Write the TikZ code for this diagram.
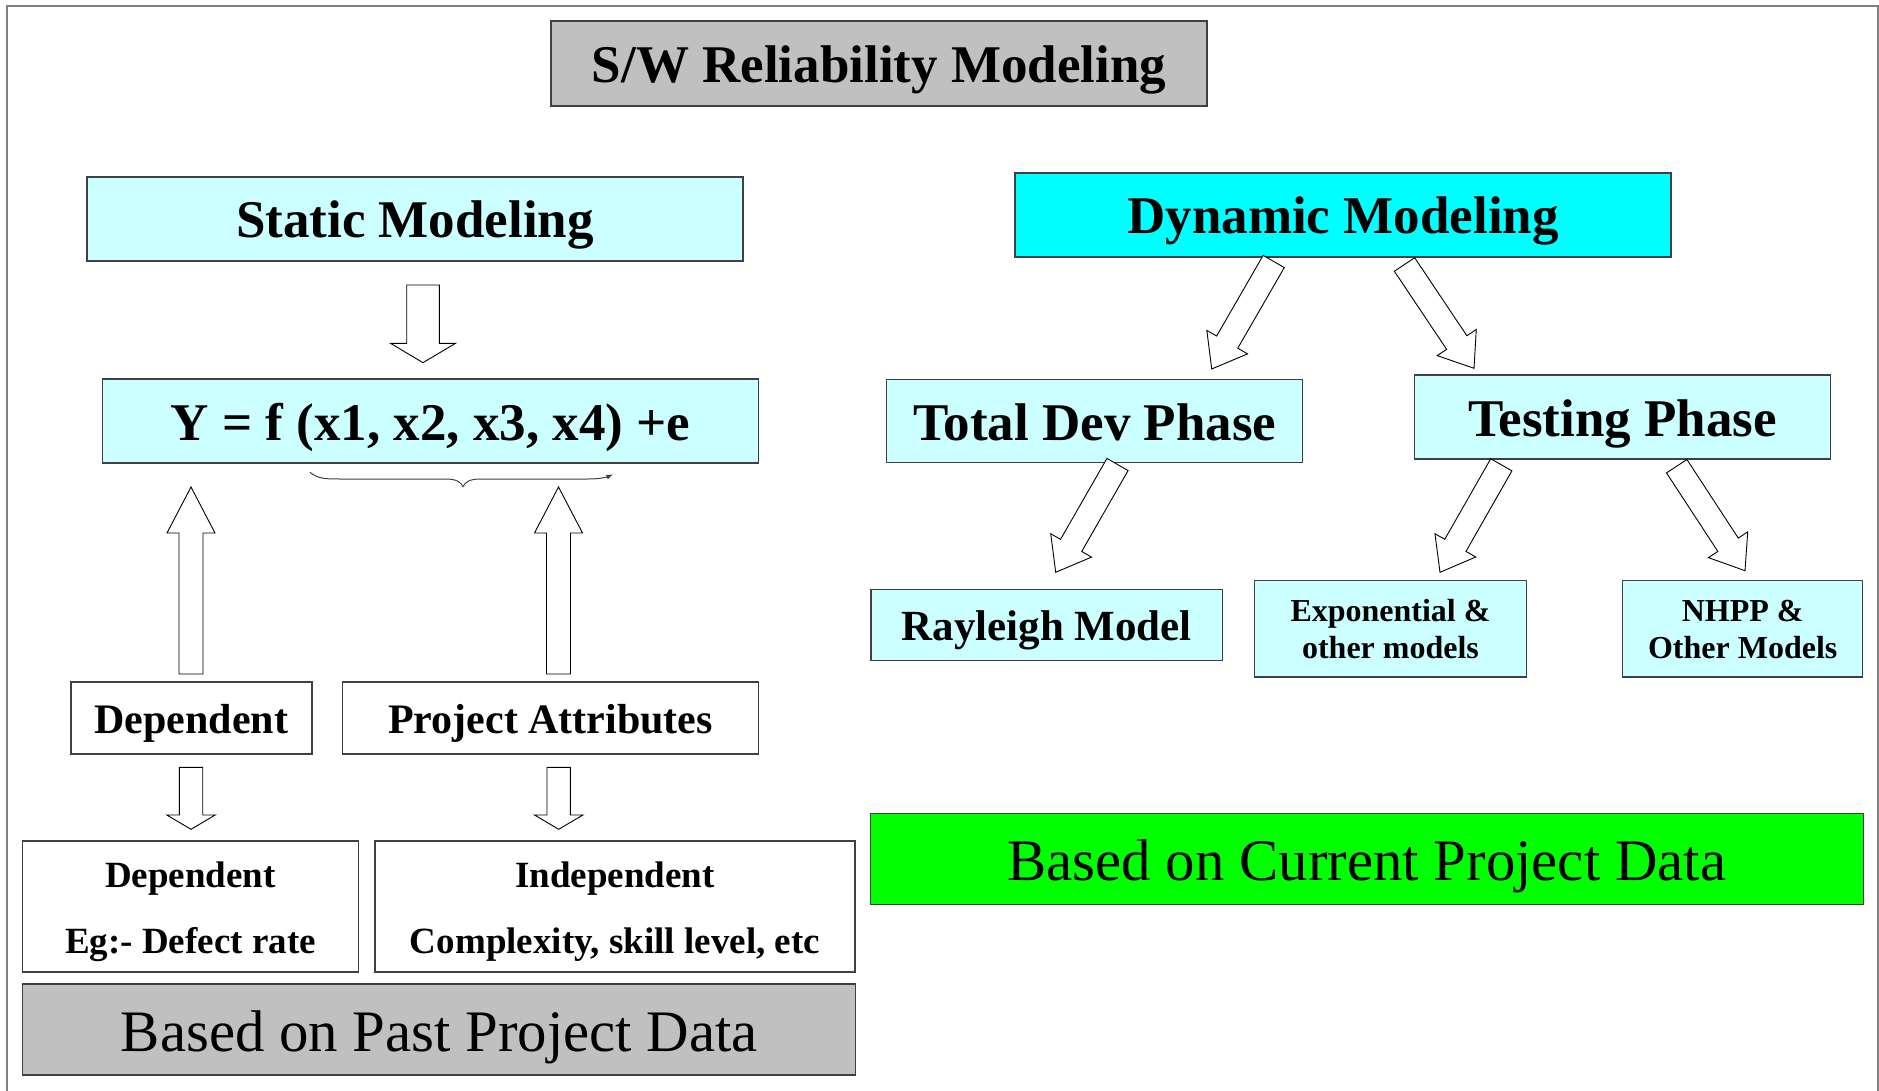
\documentclass[tikz,border=0pt]{standalone}
\usepackage{fontspec}
\setmainfont{Liberation Serif}
\usetikzlibrary{calc,arrows.meta}
\definecolor{lcyan}{HTML}{CCFFFF}
\definecolor{fcyan}{HTML}{00FFFF}
\definecolor{lgray}{HTML}{C0C0C0}
\definecolor{fgreen}{HTML}{00FF00}
\definecolor{bord}{HTML}{404040}
% #1 id, #2 tail, #3 tip, #4 shaft half width, #5 head half width, #6 head length
\newcommand{\blockarr}[6]{%
  \coordinate (#1b) at ($(#3)!#6!(#2)$);
  \draw[blk] ($(#2)!#4!90:(#3)$) -- ($(#1b)!#4!-90:(#2)$) -- ($(#1b)!#5!-90:(#2)$)
    -- (#3) -- ($(#1b)!#5!90:(#2)$) -- ($(#1b)!#4!90:(#2)$) -- ($(#2)!#4!-90:(#3)$) -- cycle;
}
\begin{document}
\begin{tikzpicture}[x=1pt,y=-1pt,
  box/.style={draw=bord, line width=1.2pt, inner sep=0pt, align=center},
  big/.style={font=\fontsize{53}{60}\selectfont\bfseries, text height=38pt, text depth=0pt},
  midf/.style={font=\fontsize{43}{50}\selectfont\bfseries, text height=31pt, text depth=0pt},
  labf/.style={font=\fontsize{42}{50}\selectfont\bfseries, text height=30pt, text depth=0pt},
  twof/.style={font=\fontsize{32}{36.3}\selectfont\bfseries, text height=58.4pt, text depth=0pt},
  deff/.style={font=\fontsize{37}{66}\selectfont\bfseries, text height=93pt, text depth=0pt},
  basef/.style={font=\fontsize{58.8}{64}\selectfont, text height=43pt, text depth=0pt},
  blk/.style={draw=black, fill=white, line width=0.9pt, line join=miter},
  bracel/.style={draw=black!75, line width=1pt}
]
\useasboundingbox (0,0) rectangle (1879,1091);
\fill[white] (0,0) rectangle (1879,1091);
\draw[gray, line width=2pt] (6.5,1091) -- (6.5,5.7) -- (1877.5,5.7) -- (1877.5,1091);

\node[box, fill=lgray, big, minimum width=656pt, minimum height=85pt] (title) at (879,63.5) {S/W Reliability Modeling};
\node[box, fill=lcyan, big, minimum width=656pt, minimum height=84pt] (static) at (415,219) {Static Modeling};
\node[box, fill=fcyan, big, minimum width=656pt, minimum height=84pt] (dyn) at (1343,215) {Dynamic Modeling};
\node[box, fill=lcyan, big, minimum width=656pt, minimum height=84pt] (yeq) at (430.5,421) {Y = f (x1, x2, x3, x4) +e};
\node[box, fill=lcyan, big, minimum width=416pt, minimum height=83pt] (tdev) at (1094.8,421) {Total Dev Phase};
\node[box, fill=lcyan, big, minimum width=416.5pt, minimum height=84pt] (test) at (1622.5,417) {Testing Phase};
\node[box, fill=lcyan, midf, minimum width=351.6pt, minimum height=71.4pt] (ray) at (1046.8,625) {Rayleigh Model};
\node[box, fill=lcyan, twof, minimum width=272.3pt, minimum height=96.3pt] (expo) at (1390.5,628.8) {Exponential \&\\other models};
\node[box, fill=lcyan, twof, minimum width=239.8pt, minimum height=96.3pt] (nhpp) at (1742.7,628.8) {NHPP \&\\Other Models};
\node[box, fill=fgreen, basef, minimum width=992.8pt, minimum height=90.6pt] (cur) at (1366.8,859) {Based on Current Project Data};

\node[box, fill=white, labf, minimum width=241pt, minimum height=72pt] (dep1) at (191.5,718) {Dependent};
\node[box, fill=white, labf, minimum width=416pt, minimum height=72pt] (attr) at (550.6,718) {Project Attributes};
\node[box, fill=white, deff, minimum width=336pt, minimum height=131pt] (dep2) at (190.5,906.5) {Dependent\\Eg:- Defect rate};
\node[box, fill=white, deff, minimum width=480pt, minimum height=131pt] (indep) at (615,906.5) {Independent\\Complexity, skill level, etc};
\node[box, fill=lgray, basef, minimum width=833pt, minimum height=91pt] (past) at (439.3,1029.5) {Based on Past Project Data};

% block arrows: tails and tips
\coordinate (s1) at (423,285);      \coordinate (s2) at (423,362.7);
\coordinate (u1t) at (191,674);     \coordinate (u1h) at (191,487);
\coordinate (u2t) at (558.5,674);   \coordinate (u2h) at (558.5,487);
\coordinate (d1t) at (191,767.3);   \coordinate (d1h) at (191,829.3);
\coordinate (d2t) at (558.7,767.3); \coordinate (d2h) at (558.7,829.3);
\coordinate (a1t) at (1273.7,261.5); \coordinate (a1h) at (1211.7,369);
\coordinate (a2t) at (1404.5,264.5); \coordinate (a2h) at (1474,368.3);
\coordinate (a3t) at (1117.5,464.5); \coordinate (a3h) at (1055.7,572.3);
\coordinate (a4t) at (1501.3,464.8); \coordinate (a4h) at (1440,572.3);
\coordinate (a5t) at (1676.7,466.2); \coordinate (a5h) at (1745,570.7);

\blockarr{sa}{s1}{s2}{16.3pt}{32.5pt}{19.4pt}
\blockarr{ua}{u1t}{u1h}{12pt}{24pt}{46pt}
\blockarr{ub}{u2t}{u2h}{12pt}{24pt}{46pt}
\blockarr{da}{d1t}{d1h}{11.7pt}{24.2pt}{14.3pt}
\blockarr{db}{d2t}{d2h}{11.7pt}{24.2pt}{14.3pt}
\blockarr{aa}{a1t}{a1h}{12.2pt}{23.5pt}{31pt}
\blockarr{ab}{a2t}{a2h}{12.2pt}{23.5pt}{31pt}
\blockarr{ac}{a3t}{a3h}{12.2pt}{23.5pt}{31pt}
\blockarr{ad}{a4t}{a4h}{12.2pt}{23.5pt}{31pt}
\blockarr{ae}{a5t}{a5h}{12.2pt}{23.5pt}{31pt}

% brace under the arguments
\coordinate (br1) at (310,472.3);
\coordinate (brm) at (463,486.7);
\coordinate (br2) at (613.3,474.3);
\draw[bracel, -{Latex[length=7pt,width=5pt]}] (br1) .. controls (318,479) and (326,479) .. (340,479) -- (446,479)
  .. controls (456,479) and (461,482) .. (brm) .. controls (465,482) and (470,479) .. (480,479) -- (588,479)
  .. controls (600,479) and (607,477) .. (br2);
\end{tikzpicture}
\end{document}
